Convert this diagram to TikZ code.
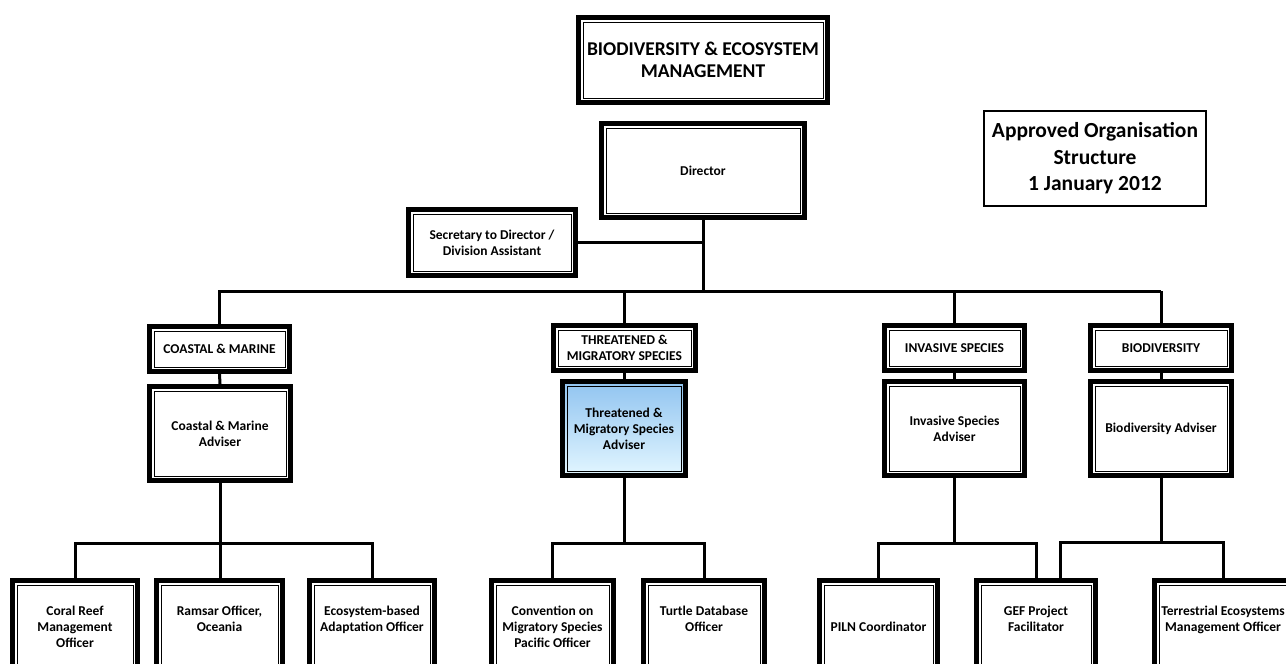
\documentclass[tikz,border=0pt]{standalone}
\usepackage{fontspec}
\setmainfont{Carlito}
\definecolor{advtop}{RGB}{145,196,240}
\definecolor{advbot}{RGB}{226,246,255}
\tikzset{
  obox/.style={draw, line width=5pt, fill=white, align=center, inner sep=0pt,
    font=\bfseries\fontsize{13.5}{16}\selectfont,
    path picture={\draw[line width=1pt]
      ([shift={(4.5pt,-4.5pt)}]path picture bounding box.north west) rectangle
      ([shift={(-4.5pt,4.5pt)}]path picture bounding box.south east);}},
  conn/.style={line width=3pt},
  plainbox/.style={draw, line width=2pt, fill=white, align=center, inner sep=0pt,
    font=\bfseries\fontsize{21.5}{26.5}\selectfont}
}
\begin{document}
\begin{tikzpicture}[x=1pt,y=-1pt]
\clip (0,0) rectangle (1286,664);
\fill[white] (0,0) rectangle (1286,664);
% top
\node[obox, minimum width=249, minimum height=85, font=\bfseries\fontsize{19.5}{22}\selectfont] (top) at (703,60) {BIODIVERSITY \& ECOSYSTEM\\MANAGEMENT};
\node[obox, minimum width=203, minimum height=94] (dir) at (703,170.5) {Director};
\node[obox, minimum width=167, minimum height=66] (sec) at (492,242.5) {Secretary to Director /\\Division Assistant};
\node[plainbox, minimum width=222, minimum height=95] (appr) at (1095,158.5) {Approved Organisation\\Structure\\1 January 2012};
% headers
\node[obox, minimum width=140, minimum height=45] (hcm) at (219.5,349) {COASTAL \& MARINE};
\node[obox, minimum width=142, minimum height=45] (htm) at (624.5,348) {THREATENED \&\\MIGRATORY SPECIES};
\node[obox, minimum width=140, minimum height=45] (his) at (954.5,348) {INVASIVE SPECIES};
\node[obox, minimum width=141, minimum height=45] (hbd) at (1161,348) {BIODIVERSITY};
% advisers
\node[obox, minimum width=141, minimum height=94] (acm) at (220,433.5) {Coastal \& Marine\\Adviser};
\node[obox, minimum width=123, minimum height=94, top color=advtop, bottom color=advbot] (atm) at (624,428.5) {Threatened \&\\Migratory Species\\Adviser};
\node[obox, minimum width=140, minimum height=94] (ais) at (954.5,428.5) {Invasive Species\\Adviser};
\node[obox, minimum width=141, minimum height=94] (abd) at (1161,428.5) {Biodiversity Adviser};
% bottom row
\node[obox, minimum width=125, minimum height=93] (b1) at (75,627) {Coral Reef\\Management\\Officer};
\node[obox, minimum width=126, minimum height=93] (b2) at (219.5,627) {Ramsar Officer,\\Oceania\\\mbox{}};
\node[obox, minimum width=125, minimum height=93] (b3) at (372,627) {Ecosystem-based\\Adaptation Officer\\\mbox{}};
\node[obox, minimum width=122, minimum height=93] (b4) at (552.5,627) {Convention on\\Migratory Species\\Pacific Officer};
\node[obox, minimum width=121, minimum height=93] (b5) at (704,627) {Turtle Database\\Officer\\\mbox{}};
\node[obox, minimum width=118, minimum height=93] (b6) at (878.5,627) {PILN Coordinator};
\node[obox, minimum width=119, minimum height=93] (b7) at (1036,627) {GEF Project\\Facilitator\\\mbox{}};
\node[obox, minimum width=137, minimum height=93] (b8) at (1223,627) {Terrestrial Ecosystems\\Management Officer\\\mbox{}};
% bus coordinates
\coordinate (busL) at (218,291);
\coordinate (busR) at (1161,291);
\coordinate (bcm) at (220,543);
\coordinate (btm) at (624,543);
\coordinate (bis) at (954.5,543);
\coordinate (bbd) at (1161,542);
\coordinate (gef2) at (1060,542);
% connectors
\draw[conn] (dir.south) -- (dir.south |- busL);
\draw[conn] (sec.east) -- (sec.east -| dir.south);
\draw[conn] (busL) -- (busR);
\draw[conn] (busL -| hcm.north) -- (hcm.north);
\draw[conn] (busL -| htm.north) -- (htm.north);
\draw[conn] (busL -| his.north) -- (his.north);
\draw[conn] (busR) -- (hbd.north);
\draw[conn] (hcm.south) -- (acm.north);
\draw[conn] (htm.south) -- (htm.south |- atm.north);
\draw[conn] (his.south) -- (ais.north);
\draw[conn] (hbd.south) -- (abd.north);
% coastal children
\draw[conn] (acm.south) -- (bcm);
\draw[conn] (b1.north) |- (bcm) -| (b3.north);
\draw[conn] (bcm) -- (bcm |- b2.north);
% threatened children
\draw[conn] (atm.south) -- (btm);
\draw[conn] (b4.north) |- (btm) -| (b5.north);
% invasive children
\draw[conn] (ais.south) -- (bis);
\draw[conn] (b6.north) |- (bis) -| (b7.north);
% biodiversity children
\draw[conn] (abd.south) -- (bbd);
\draw[conn] (gef2 |- b7.north) -- (gef2) -| (b8.north);
\end{tikzpicture}
\end{document}
